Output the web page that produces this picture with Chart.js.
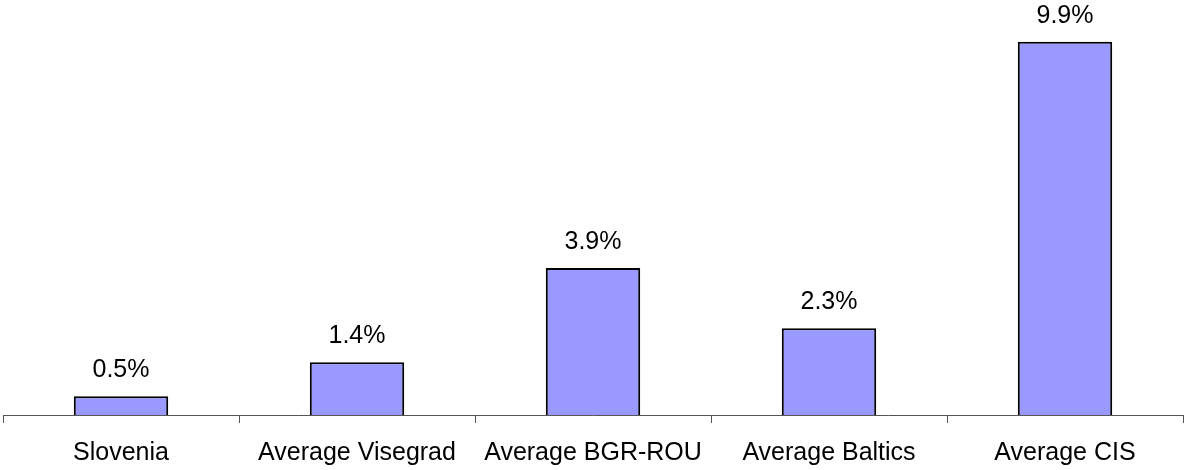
<!DOCTYPE html>
<html>
<head>
<meta charset="utf-8">
<script src="https://cdn.jsdelivr.net/npm/chart.js@4"></script>
<style>
  html, body { margin: 0; padding: 0; background: #fff; }
  #wrap { width: 1184px; height: 470px; }
</style>
</head>
<body>
<div id="wrap"><canvas id="barChart"></canvas></div>
<script>
const categories = ['Slovenia', 'Average Visegrad', 'Average BGR-ROU', 'Average Baltics', 'Average CIS'];
const values = [0.5, 1.4, 3.9, 2.3, 9.9];

Chart.defaults.font.family = "'Liberation Sans', Arial, sans-serif";
Chart.defaults.color = '#000';

// writes "x.x%" above each bar
const valueLabels = {
    id: 'valueLabels',
    afterDatasetsDraw(chart) {
        const ctx = chart.ctx;
        const meta = chart.getDatasetMeta(0);
        ctx.save();
        ctx.font = "25px 'Liberation Sans', Arial, sans-serif";
        ctx.fillStyle = '#000';
        ctx.textAlign = 'center';
        ctx.textBaseline = 'middle';
        meta.data.forEach((bar, i) => {
            ctx.fillText(values[i].toFixed(1) + '%', bar.x, bar.y - 26);
        });
        ctx.restore();
    }
};

new Chart(document.getElementById('barChart'), {
    type: 'bar',
    data: {
        labels: categories,
        datasets: [{
            data: values,
            backgroundColor: '#9999FF',
            borderColor: '#000',
            borderWidth: 2,
            barPercentage: 0.4,
            categoryPercentage: 1
        }]
    },
    options: {
        responsive: true,
        maintainAspectRatio: false,
        animation: false,
        layout: { padding: { left: 3, right: 1, top: 38, bottom: 0 } },
        plugins: {
            legend: { display: false },
            tooltip: { enabled: false }
        },
        scales: {
            x: {
                offset: true,
                afterFit(scale) { scale.height = 55; },
                grid: {
                    offset: true,
                    drawOnChartArea: false,
                    drawTicks: true,
                    tickLength: 8,
                    color: '#555'
                },
                border: { color: '#555', width: 1 },
                ticks: {
                    color: '#000',
                    font: { size: 25 },
                    padding: 15,
                    maxRotation: 0,
                    autoSkip: false
                }
            },
            y: {
                display: false,
                min: 0,
                max: 10
            }
        }
    },
    plugins: [valueLabels]
});
</script>
</body>
</html>
